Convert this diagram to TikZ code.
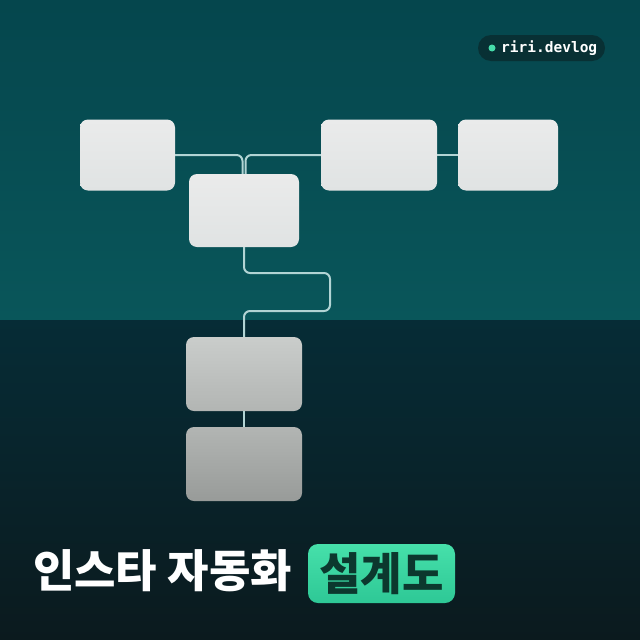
\documentclass[tikz,border=0pt]{standalone}
\usepackage{fontspec}
\newfontfamily\kr{Noto Sans CJK KR}
\newfontfamily\monob{DejaVu Sans Mono Bold}
\definecolor{tealtop}{RGB}{5,70,77}
\definecolor{tealbot}{RGB}{9,86,90}
\definecolor{darktop}{RGB}{6,44,54}
\definecolor{darkbot}{RGB}{11,26,30}
\definecolor{wire}{RGB}{178,212,212}
\definecolor{boxlt}{RGB}{234,235,235}
\definecolor{boxlb}{RGB}{224,227,227}
\definecolor{mintop}{RGB}{70,224,170}
\definecolor{minbot}{RGB}{46,200,150}
\definecolor{mintext}{RGB}{12,56,46}
\definecolor{pill}{RGB}{8,48,52}
\definecolor{dotc}{RGB}{70,220,170}
\begin{document}
\begin{tikzpicture}[x=1pt,y=-1pt,
  lightbox/.style={rounded corners=8pt, top color=boxlt, bottom color=boxlb, draw=none, inner sep=0pt},
  graybox/.style={rounded corners=8pt, draw=none, inner sep=0pt, minimum width=116pt, minimum height=74pt},
  wireline/.style={draw=wire, line width=2pt, rounded corners=6pt}]
\useasboundingbox (0,0) rectangle (640,640);
\fill[top color=tealtop, bottom color=tealbot] (0,0) rectangle (640,320);
\fill[top color=darktop, bottom color=darkbot] (0,320) rectangle (640,640);
% badge
\node[fill=pill, rounded corners=13pt, minimum width=127pt, minimum height=26pt, inner sep=0pt] (badge) at (541.5,48) {};
\fill[dotc] (492,48) circle (3.5pt);
\node[anchor=west, inner sep=0pt, text=white, font=\monob\fontsize{14.5}{14.5}\selectfont] (badgetxt) at (501,48) {riri.devlog};
% boxes
\node[lightbox, minimum width=95pt, minimum height=71pt] (A) at (127.5,155) {};
\node[lightbox, minimum width=110pt, minimum height=73pt] (B) at (244,210.5) {};
\node[lightbox, minimum width=116pt, minimum height=71pt] (C) at (379,155) {};
\node[lightbox, minimum width=100pt, minimum height=71pt] (D) at (508,155) {};
\node[graybox, top color={rgb,255:red,202;green,205;blue,203}, bottom color={rgb,255:red,178;green,181;blue,179}] (E) at (244,374) {};
\node[graybox, top color={rgb,255:red,178;green,181;blue,179}, bottom color={rgb,255:red,152;green,155;blue,153}] (F) at (244,464) {};
% connectors
\coordinate (k1) at (330,273);
\coordinate (k2) at (330,311);
\draw[wireline] (A.east) -| ([xshift=-1.5pt]B.north);
\draw[wireline] (C.west) -| ([xshift=1.5pt]B.north);
\draw[wireline] (C.east) -- (D.west);
\draw[wireline] (B.south) |- (k1) -- (k2) -| (E.north);
\draw[wireline] (E.south) -- (F.north);
% title
\node[anchor=west, inner sep=0pt, text=white, font=\kr\bfseries\fontsize{45}{45}\selectfont] (title) at (33,571) {인스타 자동화};
\node[rounded corners=10pt, top color=mintop, bottom color=minbot, minimum width=147pt, minimum height=59pt, inner sep=0pt, text=mintext, font=\kr\bfseries\fontsize{45}{45}\selectfont] (tag) at (381.5,573.5) {설계도};
\end{tikzpicture}
\end{document}
